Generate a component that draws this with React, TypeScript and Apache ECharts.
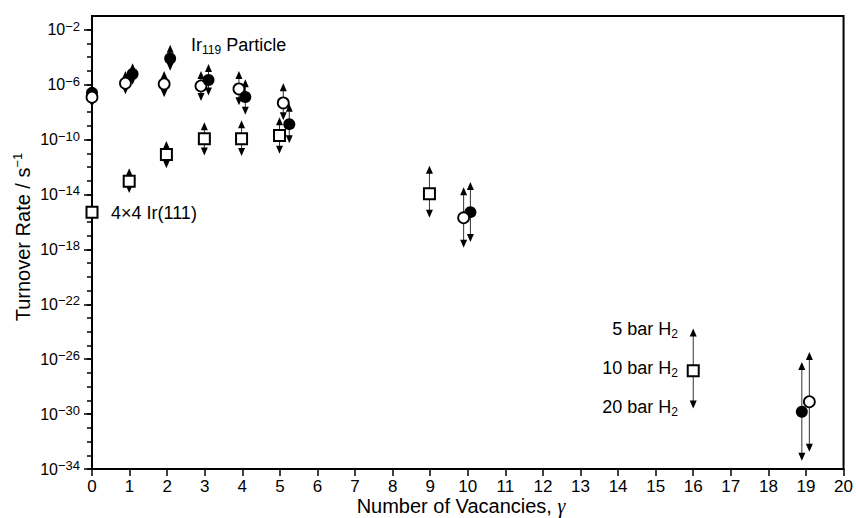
import React, { useEffect, useRef } from "react";
import * as echarts from "echarts";

// ---- data (all rates given as log10 of turnover rate in s^-1) ----
// [vacancies, log10 rate, log10 lower bound, log10 upper bound]
const openCircles: number[][] = [
  [0.0, -6.92, -7.65, -6.3],
  [0.89, -5.9, -6.7, -5.0],
  [1.92, -5.95, -6.92, -5.0],
  [2.9, -6.1, -7.2, -5.0],
  [3.91, -6.31, -7.5, -5.0],
  [5.09, -7.33, -8.6, -5.9],
  [9.89, -15.7, -17.88, -13.47],
  [19.09, -29.1, -32.74, -25.47],
];
const filledCircles: number[][] = [
  [0.0, -6.6, -7.3, -6.0],
  [1.08, -5.22, -6.0, -4.45],
  [2.08, -4.09, -4.98, -3.09],
  [3.1, -5.66, -6.8, -4.5],
  [4.08, -6.9, -8.2, -5.6],
  [5.25, -8.88, -10.27, -7.4],
  [10.07, -15.29, -17.47, -13.1],
  [18.89, -29.83, -33.4, -26.2],
];
const squares: number[][] = [
  [0.0, -15.29, -15.9, -14.65],
  [0.99, -13.03, -13.9, -12.1],
  [1.98, -11.09, -12.1, -10.1],
  [2.99, -9.95, -11.16, -8.74],
  [3.98, -9.95, -11.2, -8.6],
  [4.99, -9.71, -11.04, -8.38],
  [8.98, -13.95, -15.7, -11.9],
  [16.0, -26.85, -29.6, -23.77],
];
// vacancy counts where the open circle is drawn above the filled one
const openOnTopAt = [0, 10];

const yMajorExponents = [-34, -30, -26, -22, -18, -14, -10, -6, -2];
const yMinorExponents = Array.from({ length: 33 }, (_, i) => -34 + i);
const xMin = 0;
const xMax = 20;
const yMinExp = -34;
const yMaxExp = -1;

const annotations = {
  particle: { main: "Ir", sub: "119", rest: " Particle" },
  surface: "4×4 Ir(111)",
  pressures: ["5 bar H", "10 bar H", "20 bar H"],
};

const FONT = '"Liberation Sans", Arial, Helvetica, sans-serif';

export default function App() {
  const ref = useRef<HTMLDivElement>(null);

  useEffect(() => {
    if (!ref.current) return;
    const chart = echarts.init(ref.current, null, { renderer: "svg" });

    const kinds = [squares, openCircles, filledCircles];
    const all: number[][] = [];
    kinds.forEach((arr, k) => arr.forEach((d) => all.push([d[0], d[1], d[2], d[3], k])));

    const renderBar = (params: any, api: any) => {
      const x = api.value(0);
      const lo = api.coord([x, api.value(2)]);
      const hi = api.coord([x, api.value(3)]);
      const px = lo[0];
      const ah = 8;
      const aw = 3.5;
      return {
        type: "group",
        children: [
          {
            type: "line",
            shape: { x1: px, y1: hi[1] + ah - 1, x2: px, y2: lo[1] - ah + 1 },
            style: { stroke: "#333", lineWidth: 1 },
          },
          {
            type: "polygon",
            shape: { points: [[px, hi[1]], [px - aw, hi[1] + ah], [px + aw, hi[1] + ah]] },
            style: { fill: "#000" },
          },
          {
            type: "polygon",
            shape: { points: [[px, lo[1]], [px - aw, lo[1] - ah], [px + aw, lo[1] - ah]] },
            style: { fill: "#000" },
          },
        ],
      };
    };

    const renderMarker = (params: any, api: any) => {
      const x = api.value(0);
      const c = api.coord([x, api.value(1)]);
      const kind = api.value(4);
      if (kind === 0) {
        return {
          type: "rect",
          z2: 1,
          shape: { x: c[0] - 5.5, y: c[1] - 5.5, width: 11, height: 11 },
          style: { fill: "#fff", stroke: "#000", lineWidth: 2 },
        };
      }
      if (kind === 1) {
        const top = openOnTopAt.some((v) => Math.abs(v - x) < 0.5);
        return {
          type: "circle",
          z2: top ? 5 : 2,
          shape: { cx: c[0], cy: c[1], r: 5.5 },
          style: { fill: "#fff", stroke: "#000", lineWidth: 1.8 },
        };
      }
      return {
        type: "circle",
        z2: 3,
        shape: { cx: c[0], cy: c[1], r: 6 },
        style: { fill: "#000" },
      };
    };

    const supRich = {
      b: { fontSize: 16, lineHeight: 20, fontFamily: FONT, color: "#000" },
      s: { fontSize: 13, lineHeight: 9, verticalAlign: "top", fontFamily: FONT, color: "#000" },
    };

    chart.setOption({
      animation: false,
      backgroundColor: "#fff",
      grid: {
        left: 92,
        right: 10,
        top: 16,
        bottom: 49,
        show: true,
        borderColor: "#000",
        borderWidth: 2,
        backgroundColor: "transparent",
      },
      xAxis: {
        type: "value",
        min: xMin,
        max: xMax,
        interval: 1,
        axisLine: { show: true, onZero: false, lineStyle: { color: "#000", width: 2 } },
        axisTick: { show: true, length: 7, inside: false, lineStyle: { color: "#000", width: 1.5 } },
        axisLabel: { fontSize: 17, lineHeight: 17, fontFamily: FONT, color: "#000", margin: 9 },
        splitLine: { show: false },
      },
      yAxis: [
        {
          type: "value",
          min: yMinExp,
          max: yMaxExp,
          position: "left",
          axisLine: { show: true, onZero: false, lineStyle: { color: "#000", width: 2 } },
          axisTick: {
            show: true,
            length: 8,
            customValues: yMajorExponents,
            lineStyle: { color: "#000", width: 1.5 },
          },
          axisLabel: {
            customValues: yMajorExponents,
            margin: 12,
            formatter: (v: number) => `{b|10}{s|−${Math.abs(v)}}`,
            rich: supRich,
          },
          splitLine: { show: false },
        },
        {
          type: "value",
          min: yMinExp,
          max: yMaxExp,
          position: "left",
          axisLine: { show: false },
          axisTick: {
            show: true,
            length: 5,
            customValues: yMinorExponents,
            lineStyle: { color: "#000", width: 1.5 },
          },
          axisLabel: { show: false },
          splitLine: { show: false },
        },
      ],
      series: [
        {
          type: "custom",
          coordinateSystem: "cartesian2d",
          data: all,
          encode: { x: 0, y: [1, 2, 3] },
          renderItem: renderBar,
          z: 2,
          silent: true,
        },
        {
          type: "custom",
          coordinateSystem: "cartesian2d",
          data: all,
          encode: { x: 0, y: 1 },
          renderItem: renderMarker,
          z: 3,
          silent: true,
        },
      ],
      graphic: [
        {
          type: "text",
          x: 461,
          y: 506,
          style: {
            text: "{a|Number of Vacancies, }{g|γ}",
            align: "center",
            verticalAlign: "middle",
            rich: {
              a: { fontSize: 20, lineHeight: 20, fontFamily: FONT, fill: "#000" },
              g: { fontSize: 20, lineHeight: 20, fontFamily: '"Liberation Serif", serif', fontStyle: "italic", fill: "#000" },
            },
          },
        },
        {
          type: "text",
          x: 23,
          y: 237,
          rotation: Math.PI / 2,
          style: {
            text: "{a|Turnover Rate / s}{s|−1}",
            align: "center",
            verticalAlign: "middle",
            rich: {
              a: { fontSize: 20, lineHeight: 24, fontFamily: FONT, fill: "#000" },
              s: { fontSize: 13, lineHeight: 11, verticalAlign: "top", fontFamily: FONT, fill: "#000" },
            },
          },
        },
        {
          type: "text",
          x: 191,
          y: 45,
          style: {
            text: `{a|${annotations.particle.main}}{s|${annotations.particle.sub}}{a|${annotations.particle.rest}}`,
            align: "left",
            verticalAlign: "middle",
            rich: {
              a: { fontSize: 18, lineHeight: 22, fontFamily: FONT, fill: "#000" },
              s: { fontSize: 12, lineHeight: 12, verticalAlign: "bottom", fontFamily: FONT, fill: "#000" },
            },
          },
        },
        {
          type: "text",
          x: 111,
          y: 213,
          style: {
            text: annotations.surface,
            align: "left",
            verticalAlign: "middle",
            fontSize: 18,
            fontFamily: FONT,
            fill: "#000",
          },
        },
        ...annotations.pressures.map((t, i) => ({
          type: "text",
          x: 678,
          y: 329 + i * 39,
          style: {
            text: `{a|${t}}{s|2}`,
            align: "right",
            verticalAlign: "middle",
            rich: {
              a: { fontSize: 18, lineHeight: 22, fontFamily: FONT, fill: "#000" },
              s: { fontSize: 12, lineHeight: 12, verticalAlign: "bottom", fontFamily: FONT, fill: "#000" },
            },
          },
        })),
      ],
    });

    return () => chart.dispose();
  }, []);

  return (
    <div
      ref={ref}
      style={{ position: "absolute", left: 0, top: 0, width: 856, height: 518, overflow: "hidden" }}
    />
  );
}
